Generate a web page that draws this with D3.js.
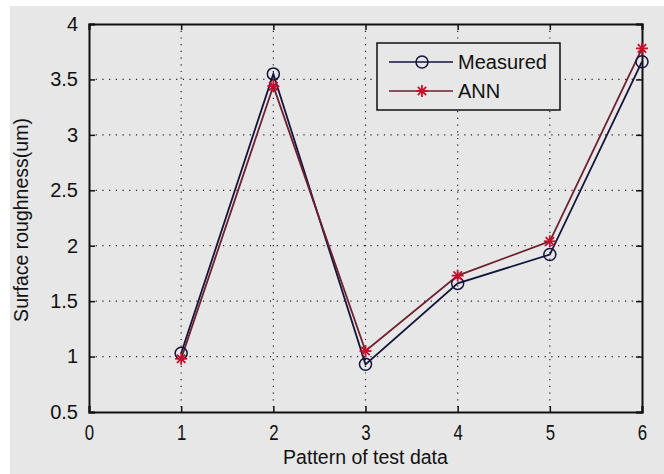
<!DOCTYPE html>
<html>
<head>
<meta charset="utf-8">
<script src="https://cdn.jsdelivr.net/npm/d3@7"></script>
<style>
  body { margin: 0; background: #fff; }
  text { font-family: "Liberation Sans", Arial, sans-serif; fill: #111; }
</style>
</head>
<body>
<div id="chart"></div>
<script>
// Data
const patterns = [1, 2, 3, 4, 5, 6];
const measured = [1.03, 3.55, 0.93, 1.66, 1.92, 3.66];
const ann = [0.98, 3.44, 1.05, 1.73, 2.04, 3.78];
const xTicks = [0, 1, 2, 3, 4, 5, 6];
const yTicks = [0.5, 1, 1.5, 2, 2.5, 3, 3.5, 4];

const W = 664, H = 474;
const margin = { top: 24, right: 22, bottom: 62, left: 89 };
const width = W - margin.left - margin.right;
const height = H - margin.top - margin.bottom;

const root = d3.select("#chart").append("svg")
    .attr("width", W)
    .attr("height", H);

// grey figure background
root.append("rect")
    .attr("x", 10).attr("y", 6)
    .attr("width", W - 10).attr("height", H - 6)
    .attr("fill", "#e7e7e7");

const svg = root.append("g")
    .attr("transform", "translate(" + margin.left + "," + margin.top + ")");

const x = d3.scaleLinear().domain([0, 6]).range([0, width]);
const y = d3.scaleLinear().domain([0.5, 4]).range([height, 0]);

// dotted grid
svg.selectAll(".vgrid")
    .data(xTicks.slice(1, -1))
  .enter().append("line")
    .attr("x1", d => x(d)).attr("x2", d => x(d))
    .attr("y1", 0).attr("y2", height)
    .attr("stroke", "#222")
    .attr("stroke-width", 1.2)
    .attr("stroke-dasharray", "1.2,5.5");

svg.selectAll(".hgrid")
    .data(yTicks.slice(1, -1))
  .enter().append("line")
    .attr("x1", 0).attr("x2", width)
    .attr("y1", d => y(d)).attr("y2", d => y(d))
    .attr("stroke", "#222")
    .attr("stroke-width", 1.2)
    .attr("stroke-dasharray", "1.2,5.5");

// axes (ticks point inward, MATLAB style)
const tickLen = 6;
svg.append("g")
    .attr("transform", "translate(0," + height + ")")
    .call(d3.axisBottom(x).tickValues(xTicks).tickSize(-tickLen).tickPadding(12).tickFormat(d3.format("d")))
    .call(g => g.selectAll("text").attr("font-size", 21).attr("transform", "scale(0.8,1.05)").attr("dy", "0.68em"));
svg.append("g")
    .call(d3.axisTop(x).tickValues(xTicks).tickSize(-tickLen).tickFormat(""));
svg.append("g")
    .call(d3.axisLeft(y).tickValues(yTicks).tickSize(-tickLen).tickPadding(11).tickFormat(d3.format("")))
    .call(g => g.selectAll("text").attr("font-size", 20));
svg.append("g")
    .attr("transform", "translate(" + width + ",0)")
    .call(d3.axisRight(y).tickValues(yTicks).tickSize(-tickLen).tickFormat(""));

svg.selectAll(".domain").attr("stroke", "#111").attr("stroke-width", 2);
svg.selectAll(".tick line").attr("stroke", "#111").attr("stroke-width", 1.5);

// axis titles
svg.append("text")
    .attr("x", width / 2)
    .attr("y", height + 52)
    .attr("text-anchor", "middle")
    .attr("font-size", 19.5)
    .text("Pattern of test data");

svg.append("text")
    .attr("transform", "rotate(-90)")
    .attr("x", -height / 2 - 2)
    .attr("y", -margin.left + 28)
    .attr("text-anchor", "middle")
    .attr("font-size", 19.5)
    .text("Surface roughness(um)");

const measuredColor = "#14143a";
const annColor = "#6e1f30";
const starColor = "#c4102c";

const seriesA = patterns.map((p, i) => ({ p, v: measured[i] }));
const seriesB = patterns.map((p, i) => ({ p, v: ann[i] }));

const line = d3.line()
    .x(d => x(d.p))
    .y(d => y(d.v));

svg.append("path")
    .datum(seriesA)
    .attr("fill", "none")
    .attr("stroke", measuredColor)
    .attr("stroke-width", 1.8)
    .attr("d", line);

svg.append("path")
    .datum(seriesB)
    .attr("fill", "none")
    .attr("stroke", annColor)
    .attr("stroke-width", 1.8)
    .attr("d", line);

// circle markers
svg.selectAll(".mpt")
    .data(seriesA)
  .enter().append("circle")
    .attr("cx", d => x(d.p))
    .attr("cy", d => y(d.v))
    .attr("r", 6)
    .attr("fill", "none")
    .attr("stroke", measuredColor)
    .attr("stroke-width", 1.5);

// star markers
function star(g, cx, cy, s) {
    const k = s * 0.7;
    const segs = [[-s, 0, s, 0], [0, -s, 0, s], [-k, -k, k, k], [-k, k, k, -k]];
    segs.forEach(a => {
        g.append("line")
            .attr("x1", cx + a[0]).attr("y1", cy + a[1])
            .attr("x2", cx + a[2]).attr("y2", cy + a[3])
            .attr("stroke", starColor)
            .attr("stroke-width", 1.8);
    });
}
seriesB.forEach(d => star(svg, x(d.p), y(d.v), 6));

// legend
const legend = svg.append("g")
    .attr("transform", "translate(" + (377 - margin.left) + "," + (43 - margin.top) + ")");

legend.append("rect")
    .attr("width", 183)
    .attr("height", 67)
    .attr("fill", "#e7e7e7")
    .attr("stroke", "#111")
    .attr("stroke-width", 1.5);

legend.append("line")
    .attr("x1", 12).attr("x2", 76).attr("y1", 19).attr("y2", 19)
    .attr("stroke", measuredColor).attr("stroke-width", 1.6);
legend.append("circle")
    .attr("cx", 45).attr("cy", 19).attr("r", 6)
    .attr("fill", "none").attr("stroke", measuredColor).attr("stroke-width", 1.5);
legend.append("text")
    .attr("x", 81).attr("y", 19).attr("dy", "0.35em")
    .attr("font-size", 20)
    .text("Measured");

legend.append("line")
    .attr("x1", 12).attr("x2", 76).attr("y1", 48).attr("y2", 48)
    .attr("stroke", annColor).attr("stroke-width", 1.6);
star(legend, 45, 48, 6);
legend.append("text")
    .attr("x", 81).attr("y", 48).attr("dy", "0.35em")
    .attr("font-size", 20)
    .text("ANN");
</script>
</body>
</html>
